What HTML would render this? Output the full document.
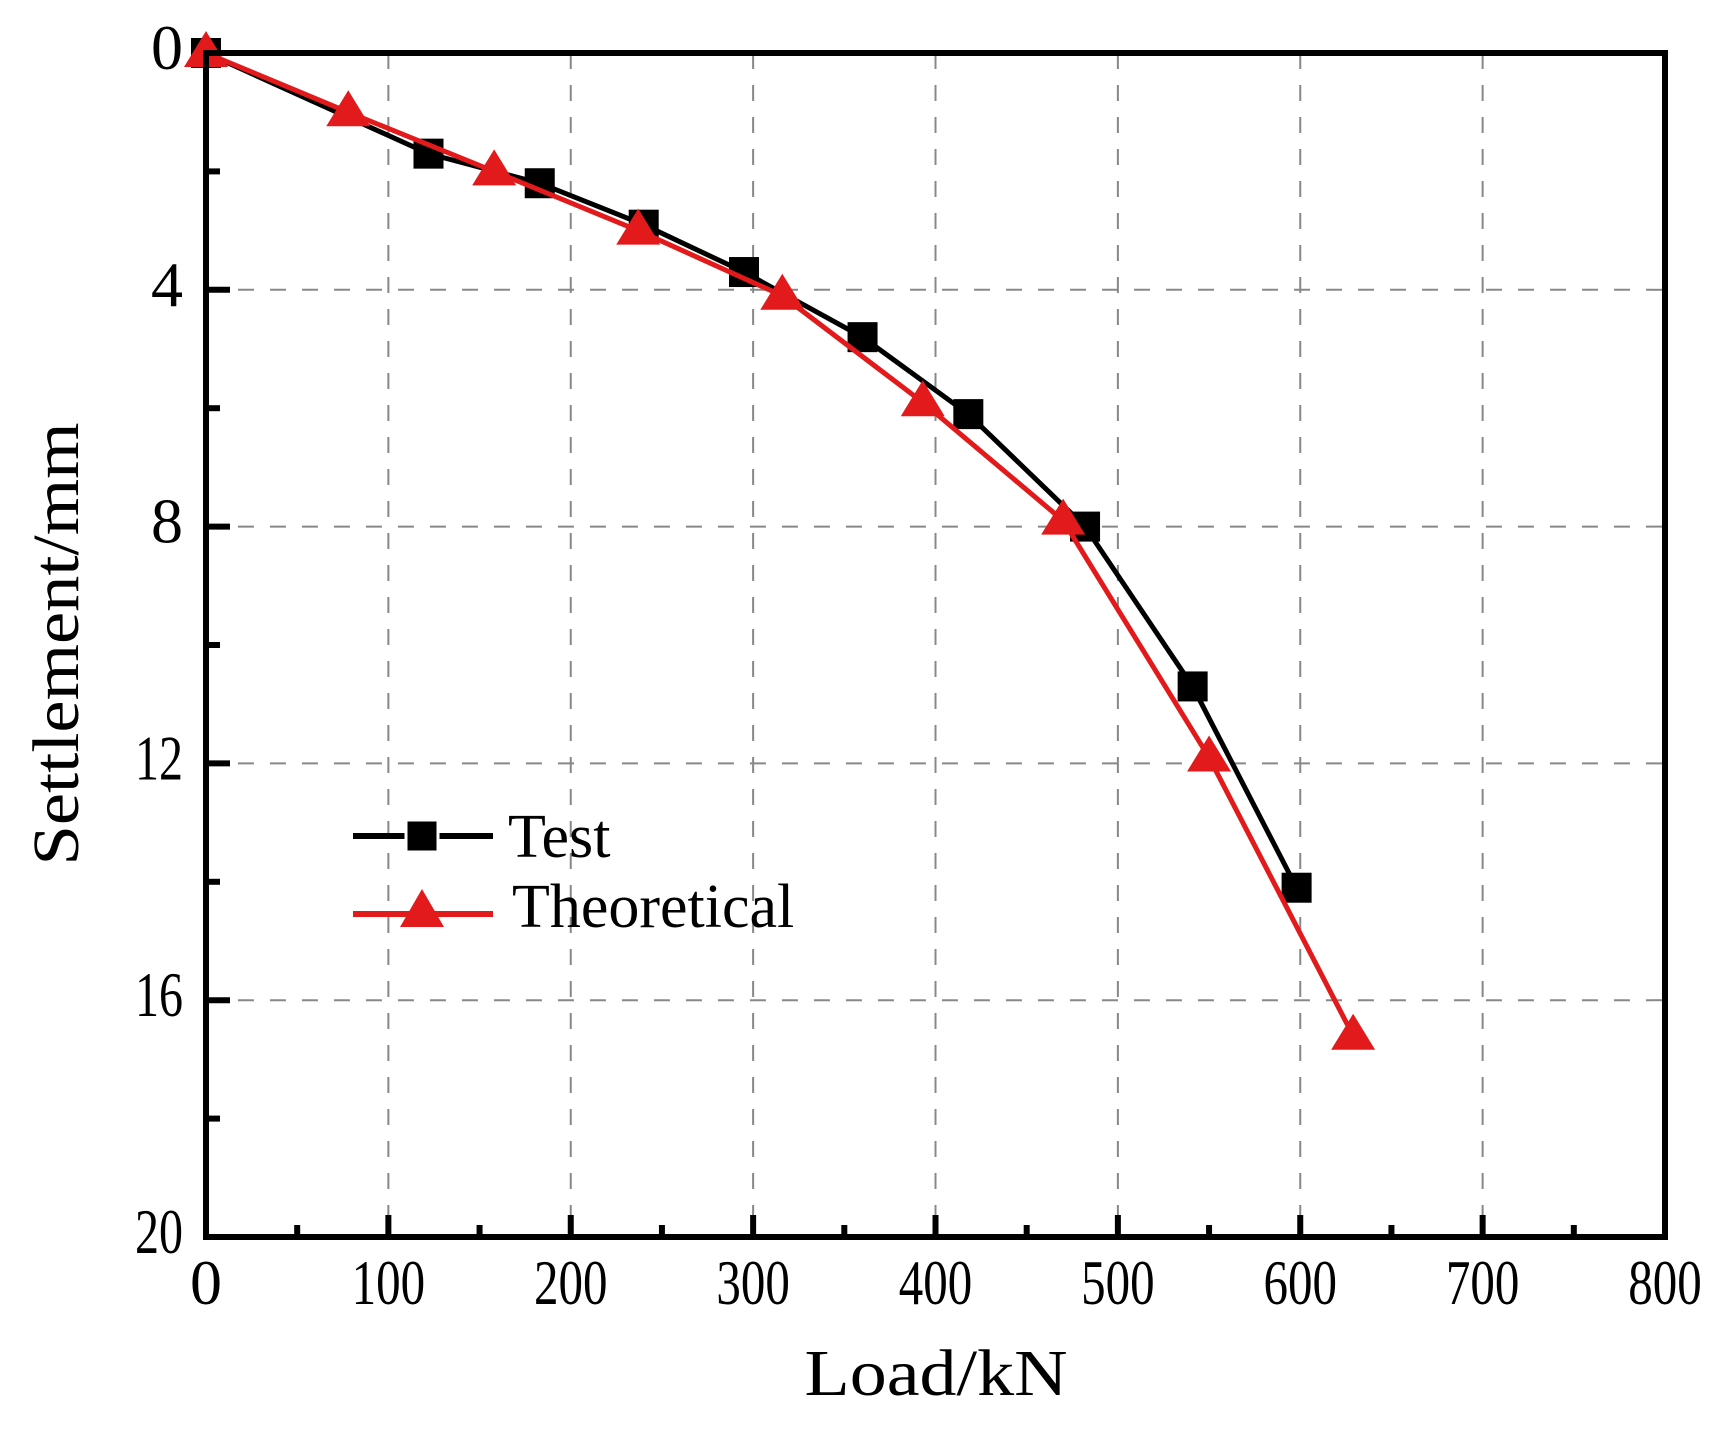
<!DOCTYPE html>
<html><head><meta charset="utf-8"><style>
html,body{margin:0;padding:0;background:#fff;}
svg{display:block;font-family:"Liberation Serif",serif;}
</style></head><body>
<svg id="chart" width="1717" height="1430" viewBox="0 0 1717 1430" xmlns="http://www.w3.org/2000/svg">
<g id="grid"></g>
<g id="series"></g>
<g id="axes"></g>
<g id="legend">
  <line x1="353" y1="836" x2="493" y2="836" stroke="#000" stroke-width="6"/>
  <rect x="406" y="820" width="32" height="32" fill="#000" stroke="#fff" stroke-width="3"/>
  <text x="508" y="857" font-size="62">Test</text>
  <line x1="353" y1="914" x2="493" y2="914" stroke="#e31a1c" stroke-width="6"/>
  <polygon points="422,889 400,927 444,927" fill="#e31a1c"/>
  <text x="512" y="927" font-size="62">Theoretical</text>
</g>
<text x="936" y="1395" font-size="66" text-anchor="middle" textLength="263" lengthAdjust="spacingAndGlyphs">Load/kN</text>
<text transform="translate(78,644) rotate(-90)" font-size="66" text-anchor="middle" textLength="443" lengthAdjust="spacingAndGlyphs">Settlement/mm</text>
</svg>
<script>
const xTicks = [0,100,200,300,400,500,600,700,800];
const yTicks = [0,4,8,12,16,20];
const testLoad = [0,122,183,240,295,360,418,482,541,598];
const testSettle = [0,1.7,2.2,2.9,3.7,4.8,6.1,8.0,10.7,14.1];
const theoLoad = [0,78,158,237,316,393,470,550,629];
const theoSettle = [0,1.0,2.0,3.0,4.1,5.9,7.9,11.9,16.6];

const NS='http://www.w3.org/2000/svg';
const L=206,R=1665,T=53,B=1237;
const xs=v=>L+(v-0)/(800-0)*(R-L);
const ys=v=>T+(v-0)/(20-0)*(B-T);
function mk(tag,attrs,parent){const e=document.createElementNS(NS,tag);for(const k in attrs)e.setAttribute(k,attrs[k]);parent.appendChild(e);return e;}
const grid=document.getElementById('grid'),axes=document.getElementById('axes'),series=document.getElementById('series');
xTicks.forEach(v=>{
  if(v>0&&v<800){const g=mk('line',{x1:xs(v),y1:T,x2:xs(v),y2:B,stroke:'#888','stroke-width':2,'stroke-dasharray':'16 16'},grid);
  
  }
  const t=mk('line',{x1:xs(v),y1:B,x2:xs(v),y2:B-22,stroke:'#000','stroke-width':6},axes);
  
  
  const lab=mk('text',{x:xs(v),y:1304,'font-size':64,'text-anchor':'middle'},axes);
  if(String(v).length>1){lab.setAttribute('textLength',String(v).length*24.5);lab.setAttribute('lengthAdjust','spacingAndGlyphs');}
  lab.textContent=v;
  
  
  if(v<800){const m=mk('line',{x1:xs(v+50),y1:B,x2:xs(v+50),y2:B-12,stroke:'#000','stroke-width':6},axes);
  
  }
});
yTicks.forEach(v=>{
  if(v>0&&v<20){const g=mk('line',{x1:L,y1:ys(v),x2:R,y2:ys(v),stroke:'#888','stroke-width':2,'stroke-dasharray':'16 16'},grid);
  
  }
  const t=mk('line',{x1:L,y1:ys(v),x2:L+24,y2:ys(v),stroke:'#000','stroke-width':6},axes);
  
  
  const lab=mk('text',{x:183,y:ys(v)+16,'font-size':64,'text-anchor':'end'},axes);
  if(String(v).length>1){lab.setAttribute('textLength',48);lab.setAttribute('lengthAdjust','spacingAndGlyphs');}
  lab.textContent=v;
  
  
  if(v<20){const m=mk('line',{x1:L,y1:ys(v+2),x2:L+14,y2:ys(v+2),stroke:'#000','stroke-width':6},axes);
  
  }
});
const frame=mk('rect',{x:L,y:T,width:R-L,height:B-T,fill:'none',stroke:'#000','stroke-width':6},axes);



const tl=mk('polyline',{points:testLoad.map((x,i)=>xs(x)+','+ys(testSettle[i])).join(' '),fill:'none',stroke:'#000','stroke-width':5},series);


testLoad.forEach((x,i)=>{const r=mk('rect',{x:xs(x)-15,y:ys(testSettle[i])-15,width:30,height:30,fill:'#000'},series);

});
const th=mk('polyline',{points:theoLoad.map((x,i)=>xs(x)+','+ys(theoSettle[i])).join(' '),fill:'none',stroke:'#e31a1c','stroke-width':5},series);


theoLoad.forEach((x,i)=>{const cx=xs(x),cy=ys(theoSettle[i]);
const p=mk('polygon',{points:`${cx},${cy-22} ${cx-22},${cy+14} ${cx+22},${cy+14}`,fill:'#e31a1c'},series);

});
</script>
</body></html>
